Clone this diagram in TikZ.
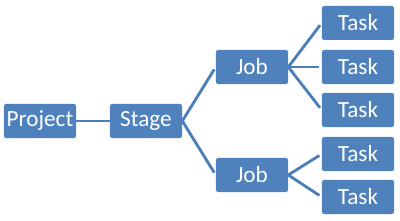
\documentclass[tikz,border=0pt]{standalone}
\usepackage{fontspec}
\setmainfont{Carlito}
\usepackage{xcolor}
\usetikzlibrary{positioning}
\definecolor{boxblue}{RGB}{79,129,189}
\definecolor{lineblue}{RGB}{74,126,187}

\begin{document}
\begin{tikzpicture}[
  x=0.025cm, y=-0.025cm,
  item/.style={rectangle, rounded corners=1.5pt, fill=boxblue,
               minimum width=1.8cm, minimum height=0.85cm, inner sep=0pt,
               text centered, font=\fontsize{16.5}{19}\selectfont, text=white},
  link/.style={line width=2pt, lineblue, shorten >=2pt},
]
\useasboundingbox (0,0) rectangle (400,221);

\node[item] (project) at (40,121)  {Project};
\node[item] (stage)   at (146,121) {Stage};
\node[item] (jobA)    at (252,67)  {Job};
\node[item] (jobB)    at (252,175) {Job};
\node[item] (taskA)   at (358,23)  {Task};
\node[item] (taskB)   at (358,67)  {Task};
\node[item] (taskC)   at (358,110) {Task};
\node[item] (taskD)   at (358,154) {Task};
\node[item] (taskE)   at (358,197) {Task};

\draw[line width=2pt, lineblue] (project) -- (stage);
\draw[link] (stage.east) -- (jobA.west);
\draw[link] (stage.east) -- (jobB.west);
\draw[link] (jobA.east) -- (taskA.west);
\draw[link] (jobA.east) -- (taskB.west);
\draw[link] (jobA.east) -- (taskC.west);
\draw[link] (jobB.east) -- (taskD.west);
\draw[link] (jobB.east) -- (taskE.west);

\end{tikzpicture}
\end{document}
